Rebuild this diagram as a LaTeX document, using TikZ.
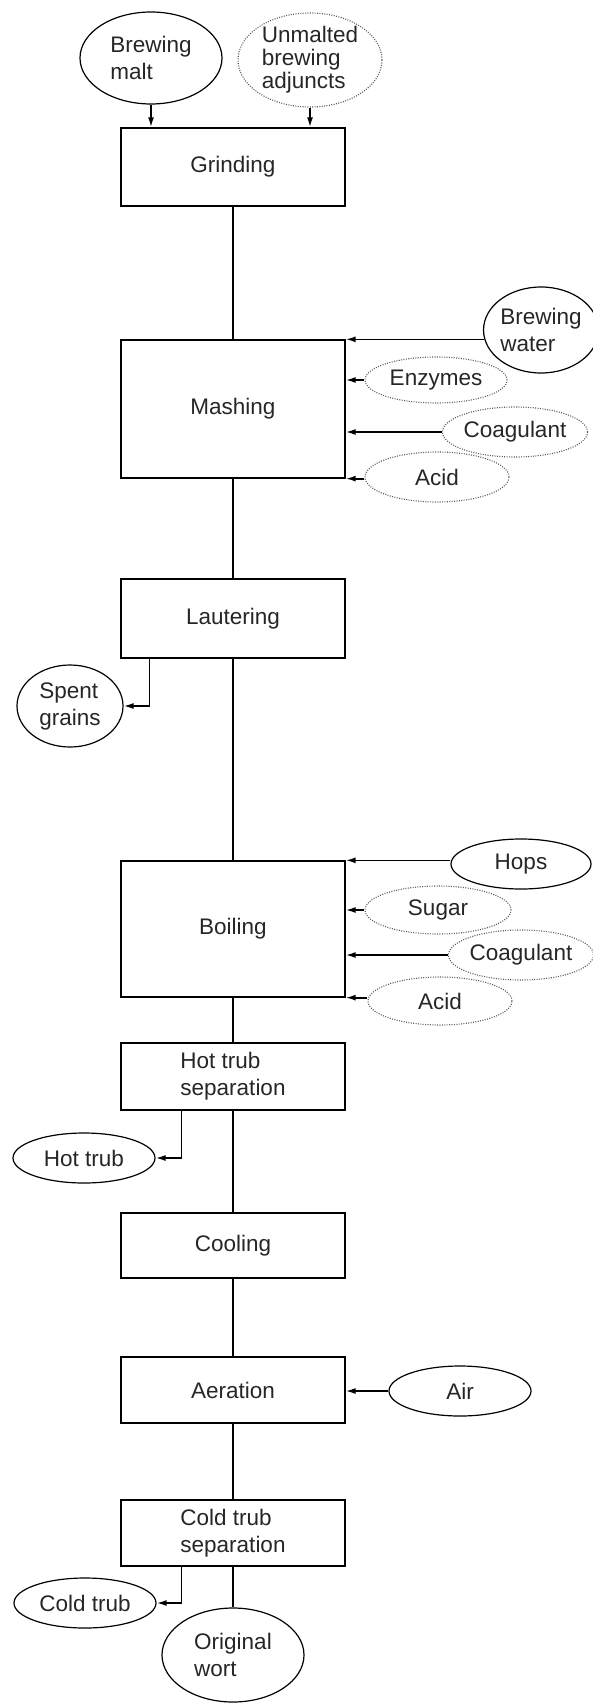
\documentclass[tikz,border=0pt]{standalone}
\usepackage{fontspec}
\setmainfont{Liberation Sans}
\usetikzlibrary{shapes.geometric,arrows.meta,calc}
\begin{document}
\begin{tikzpicture}[x=1pt,y=-1pt,
  every node/.style={font=\fontsize{22.5}{27}\selectfont, text=black!85},
  proc/.style={draw, line width=1.3pt, minimum width=224pt, inner sep=0pt, align=left},
  src/.style={ellipse, draw, line width=1.2pt, inner sep=0pt, align=left},
  opt/.style={ellipse, draw=black!65, line width=1.1pt, dash pattern=on 1pt off 1.4pt, inner sep=0pt, align=left},
  flow/.style={line width=1.7pt},
  arr/.style={line width=1.7pt, -{Latex[length=10pt,width=6pt]}},
]
\useasboundingbox (0,0) rectangle (592,1704);

% process boxes
\node[proc, minimum height=78pt]  (grind) at (233,167)    {Grinding};
\node[proc, minimum height=138pt] (mash)  at (233,409)    {Mashing};
\node[proc, minimum height=79pt]  (laut)  at (233,618.5)  {Lautering};
\node[proc, minimum height=136pt] (boil)  at (233,929)    {Boiling};
\node[proc, minimum height=67pt]  (hts)   at (233,1076.5) {Hot trub\\separation};
\node[proc, minimum height=65pt]  (cool)  at (233,1245.5) {Cooling};
\node[proc, minimum height=66pt]  (aer)   at (233,1390)   {Aeration};
\node[proc, minimum height=66pt]  (cts)   at (233,1533)   {Cold trub\\separation};

% inputs / outputs
\node[src, minimum width=142pt, minimum height=92pt] (malt) at (151,58) {Brewing\\malt};
\node[opt, minimum width=144pt, minimum height=94pt, inner ysep=-8pt, font=\fontsize{22.5}{23}\selectfont] (unm) at (310,60) {Unmalted\\brewing\\adjuncts};
\node[src, minimum width=112pt, minimum height=86pt] (water) at (541,330) {Brewing\\water};
\node[opt, minimum width=142pt, minimum height=46pt] (enz)   at (436,380) {Enzymes};
\node[opt, minimum width=144pt, minimum height=50pt] (coa1)  at (515,432) {Coagulant};
\node[opt, minimum width=144pt, minimum height=50pt] (acid1) at (437,477) {Acid};
\node[src, minimum width=106pt, minimum height=82pt] (spent) at (70,706)  {Spent\\grains};
\node[src, minimum width=140pt, minimum height=50pt] (hops)  at (521,864) {Hops};
\node[opt, minimum width=146pt, minimum height=48pt] (sugar) at (438,910) {Sugar};
\node[opt, minimum width=142pt, minimum height=50pt] (coa2)  at (521,955) {Coagulant};
\node[opt, minimum width=144pt, minimum height=48pt] (acid2) at (440,1001) {Acid};
\node[src, minimum width=142pt, minimum height=50pt] (htrub) at (84,1158)  {Hot trub};
\node[src, minimum width=142pt, minimum height=50pt] (air)   at (460,1391) {Air};
\node[src, minimum width=142pt, minimum height=50pt] (ctrub) at (85,1603)  {Cold trub};
\node[src, minimum width=142pt, minimum height=94pt] (wort)  at (233,1655) {Original\\wort};

% connectors
\draw[arr] (malt.south) -- (malt.south |- grind.north);
\draw[arr] (unm.south) -- (unm.south |- grind.north);
\draw[flow] (grind.south) -- (mash.north);
\draw[arr] (mash.north east -| water.190) -- (mash.north east);
\draw[arr] (enz.west) -- (enz.west -| mash.east);
\draw[arr] (coa1.west) -- (coa1.west -| mash.east);
\draw[arr] (mash.south east -| acid1.west) -- (mash.south east);
\draw[flow] (mash.south) -- (laut.north);
\draw[arr] ($(laut.south west)+(29,0)$) |- (spent.east);
\draw[flow] (laut.south) -- (boil.north);
\draw[arr] (boil.north east -| hops.west) -- (boil.north east);
\draw[arr] (sugar.west) -- (sugar.west -| boil.east);
\draw[arr] (coa2.west) -- (coa2.west -| boil.east);
\draw[arr] (boil.south east -| acid2.west) -- (boil.south east);
\draw[flow] (boil.south) -- (hts.north);
\draw[arr] ($(hts.south west)+(61,0)$) |- (htrub.east);
\draw[flow] (hts.south) -- (cool.north);
\draw[flow] (cool.south) -- (aer.north);
\draw[arr] (air.west) -- (air.west -| aer.east);
\draw[flow] (aer.south) -- (cts.north);
\draw[arr] ($(cts.south west)+(61,0)$) |- (ctrub.east);
\draw[flow] (cts.south) -- (wort.north);
\end{tikzpicture}
\end{document}
